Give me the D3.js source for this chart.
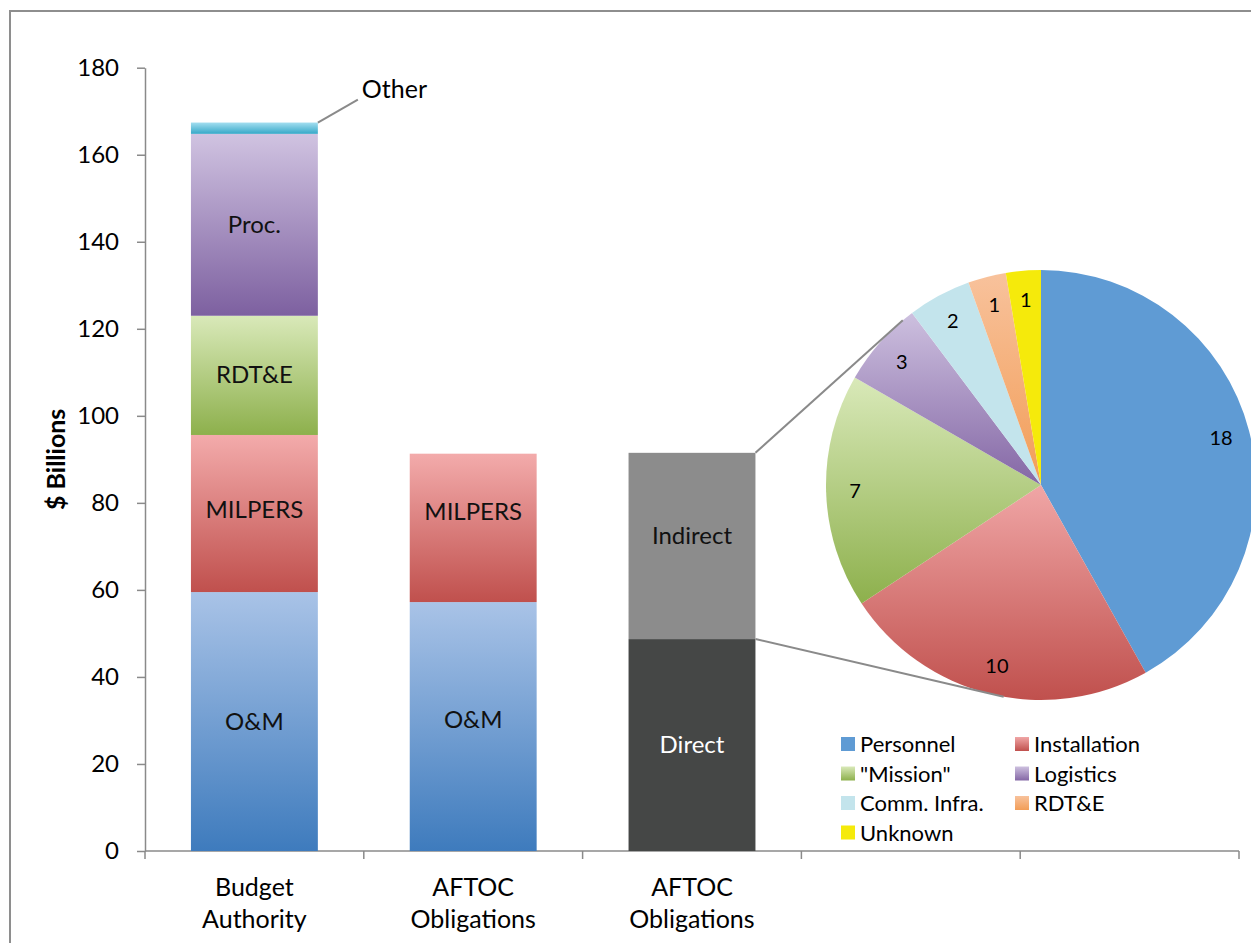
<!DOCTYPE html>
<html>
<head>
<meta charset="utf-8">
<script src="https://cdn.jsdelivr.net/npm/d3@7"></script>
<style>
  html, body { margin: 0; padding: 0; background: #fff; }
  svg { display: block; font-family: Lato, "Open Sans", sans-serif; }
</style>
</head>
<body>
<svg id="chart" width="1251" height="943"></svg>
<script>
// ---- data ----
const categories = ["Budget Authority", "AFTOC Obligations", "AFTOC Obligations", "", ""];
const budgetSeries = ["O&M", "MILPERS", "RDT&E", "Proc.", "Other"];
const budgetValues = [59.5, 36.1, 27.4, 41.8, 2.6];
const aftocSeries = ["O&M", "MILPERS"];
const aftocValues = [57.2, 34.1];
const splitSeries = ["Direct", "Indirect"];
const splitValues = [48.7, 42.8];
const pieLabels = ["Personnel", "Installation", "\"Mission\"", "Logistics", "Comm. Infra.", "RDT&E", "Unknown"];
const pieValues = [17.6, 10.0, 7.4, 2.7, 2.0, 1.2, 1.1];
const yTicks = [0, 20, 40, 60, 80, 100, 120, 140, 160, 180];

// ---- styles ----
const segColors = {
  "O&M": ["#a9c3e7", "#3e7bbd"],
  "MILPERS": ["#f3abab", "#c0504d"],
  "RDT&E": ["#d9e9b9", "#8db04c"],
  "Proc.": ["#d0c3e1", "#7d60a0"],
  "Other": ["#a3def0", "#36a8c8"],
  "Direct": ["#454746", "#454746"],
  "Indirect": ["#8c8c8c", "#8c8c8c"]
};
const pieColors = [
  ["#5f9bd4", "#5f9bd4"],
  ["#f0a6a6", "#c0504d"],
  ["#d9e9b9", "#8db04c"],
  ["#cdc0df", "#8467a5"],
  ["#c3e4ec", "#c3e4ec"],
  ["#f8c29c", "#f29d57"],
  ["#f5ea0b", "#f5ea0b"]
];
// small vertical nudges of in-bar labels (style only)
const labelNudge = { "1:O&M": -7, "1:MILPERS": -16, "2:Indirect": -10, "0:MILPERS": -4 };

const svg = d3.select("#chart");
const defs = svg.append("defs");
function grad(id, c) {
  const g = defs.append("linearGradient").attr("id", id)
    .attr("x1", 0).attr("y1", 0).attr("x2", 0).attr("y2", 1);
  g.append("stop").attr("offset", "0%").attr("stop-color", c[0]);
  g.append("stop").attr("offset", "100%").attr("stop-color", c[1]);
}
Object.keys(segColors).forEach((k, i) => grad("seg" + i, segColors[k]));
const segId = k => "url(#seg" + Object.keys(segColors).indexOf(k) + ")";
pieColors.forEach((c, i) => grad("pie" + i, c));

// border
svg.append("rect").attr("x", 10).attr("y", 11).attr("width", 1260).attr("height", 960)
  .attr("fill", "none").attr("stroke", "#8e8e8e").attr("stroke-width", 2);

// ---- scales ----
const plotLeft = 145, plotRight = 1239, plotTop = 67.7, plotBottom = 851;
const x = d3.scaleBand().domain(d3.range(categories.length))
  .range([plotLeft, plotRight]).paddingInner(0.42).paddingOuter(0.21);
const y = d3.scaleLinear().domain([0, 180]).range([plotBottom, plotTop]);

// y axis
const yAxis = svg.append("g").attr("transform", `translate(${plotLeft},0)`)
  .call(d3.axisLeft(y).tickValues(yTicks).tickSize(8).tickSizeOuter(0).tickPadding(18));
yAxis.select(".domain").attr("stroke", "#8a8a8a").attr("stroke-width", 1.5);
yAxis.selectAll(".tick line").attr("stroke", "#8a8a8a").attr("stroke-width", 1.5);
yAxis.selectAll(".tick text").attr("font-size", 24).attr("fill", "#000")
  .attr("font-family", "Lato, sans-serif");

svg.append("text").attr("transform", `translate(65,${(plotTop + plotBottom) / 2}) rotate(-90)`)
  .attr("text-anchor", "middle").attr("font-size", 25).attr("font-weight", "bold")
  .text("$ Billions");

// x axis
const xAxisG = svg.append("g");
xAxisG.append("line").attr("x1", plotLeft).attr("x2", plotRight)
  .attr("y1", plotBottom).attr("y2", plotBottom)
  .attr("stroke", "#8a8a8a").attr("stroke-width", 1.5);
const step = x.step();
const edges = d3.range(categories.length + 1).map(i => plotLeft + i * step);
xAxisG.selectAll("line.tk").data(edges).join("line").attr("class", "tk")
  .attr("x1", d => d).attr("x2", d => d).attr("y1", plotBottom).attr("y2", plotBottom + 8)
  .attr("stroke", "#8a8a8a").attr("stroke-width", 1.5);
categories.forEach((c, i) => {
  if (!c) return;
  const words = c.split(" ");
  const t = svg.append("text").attr("text-anchor", "middle").attr("font-size", 25)
    .attr("x", x(i) + x.bandwidth() / 2).attr("y", plotBottom + 45);
  words.forEach((w, j) => t.append("tspan").attr("x", x(i) + x.bandwidth() / 2)
    .attr("dy", j === 0 ? 0 : 32).text(w));
});

// ---- stacked bars ----
function drawStack(idx, series, values, labelColors) {
  let acc = 0;
  const segs = series.map((s, i) => { const d = { s, y0: acc, y1: acc + values[i] }; acc += values[i]; return d; });
  const g = svg.append("g");
  g.selectAll("rect").data(segs).join("rect")
    .attr("x", x(idx)).attr("width", x.bandwidth())
    .attr("y", d => y(d.y1)).attr("height", d => y(d.y0) - y(d.y1))
    .attr("fill", d => segId(d.s));
  g.selectAll("text").data(segs.filter(d => d.s !== "Other")).join("text")
    .attr("x", x(idx) + x.bandwidth() / 2)
    .attr("y", d => (y(d.y0) + y(d.y1)) / 2 + 8 + (labelNudge[idx + ":" + d.s] || 0))
    .attr("text-anchor", "middle").attr("font-size", 24)
    .attr("fill", d => (labelColors && labelColors[d.s]) || "#111").text(d => d.s);
  return segs;
}
const bSegs = drawStack(0, budgetSeries, budgetValues);
drawStack(1, aftocSeries, aftocValues);
const sSegs = drawStack(2, splitSeries, splitValues, { "Direct": "#ffffff" });

// Other leader + label
const otherSeg = bSegs[bSegs.length - 1];
const bRight = x(0) + x.bandwidth();
svg.append("line").attr("x1", bRight).attr("y1", y(otherSeg.y1))
  .attr("x2", bRight + 40).attr("y2", y(otherSeg.y1) - 23)
  .attr("stroke", "#8a8a8a").attr("stroke-width", 2);
svg.append("text").attr("x", bRight + 44).attr("y", y(otherSeg.y1) - 25)
  .attr("font-size", 25).text("Other");

// ---- pie ----
const cx = 1041, cy = 485, R = 215;
const pie = d3.pie().sort(null).value(d => d)(pieValues);
const arc = d3.arc().innerRadius(0).outerRadius(R);
const labelArc = d3.arc().innerRadius(186).outerRadius(186);
const pg = svg.append("g").attr("transform", `translate(${cx},${cy})`);
pg.selectAll("path").data(pie).join("path")
  .attr("d", arc).attr("fill", (d, i) => `url(#pie${i})`);
pg.selectAll("text").data(pie).join("text")
  .attr("transform", d => `translate(${labelArc.centroid(d)})`)
  .attr("dy", 7).attr("text-anchor", "middle").attr("font-size", 20)
  .text(d => d3.format(".0f")(d.data));

// connector lines from the split bar to the pie
const sRight = x(2) + x.bandwidth();
const topAng = 320 * Math.PI / 180, botAng = 190 * Math.PI / 180;
svg.append("line").attr("x1", sRight).attr("y1", y(sSegs[1].y1))
  .attr("x2", cx + R * Math.sin(topAng)).attr("y2", cy - R * Math.cos(topAng))
  .attr("stroke", "#8a8a8a").attr("stroke-width", 2);
svg.append("line").attr("x1", sRight).attr("y1", y(sSegs[0].y1))
  .attr("x2", cx + R * Math.sin(botAng)).attr("y2", cy - R * Math.cos(botAng))
  .attr("stroke", "#8a8a8a").attr("stroke-width", 2);

// ---- legend ----
const lg = svg.append("g").attr("transform", "translate(841,737)");
pieLabels.forEach((l, i) => {
  const col = i % 2, row = Math.floor(i / 2);
  const gx = col * 174, gy = row * 29.5;
  lg.append("rect").attr("x", gx).attr("y", gy).attr("width", 14).attr("height", 14)
    .attr("fill", `url(#pie${i})`);
  lg.append("text").attr("x", gx + 19).attr("y", gy + 15).attr("font-size", 22).text(l);
});
</script>
</body>
</html>
